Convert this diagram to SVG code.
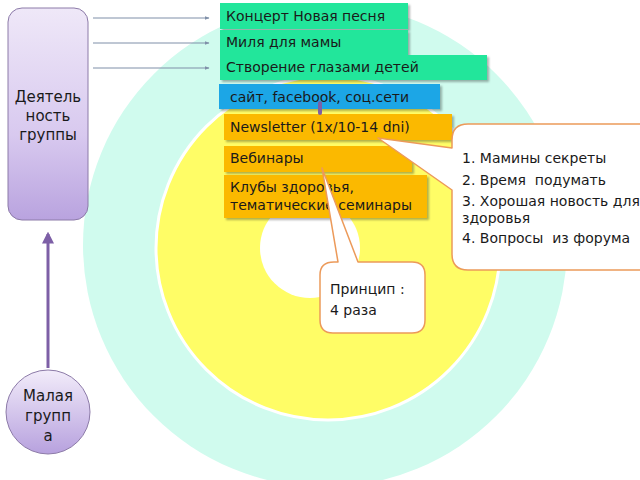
<svg xmlns="http://www.w3.org/2000/svg" width="640" height="480" viewBox="0 0 640 480">
<defs>
<linearGradient id="pg" x1="0" y1="0" x2="0" y2="1">
<stop offset="0" stop-color="#efe8f8"/><stop offset="0.6" stop-color="#d8c9ef"/><stop offset="1" stop-color="#b9a3df"/>
</linearGradient>
<linearGradient id="cg" x1="0" y1="0" x2="0" y2="1">
<stop offset="0" stop-color="#f2ecfa"/><stop offset="1" stop-color="#b7a1de"/>
</linearGradient>
<marker id="ah" viewBox="0 0 10 10" refX="9" refY="5" markerWidth="5" markerHeight="5" orient="auto"><path d="M0,1 L10,5 L0,9 z" fill="#7f8fa8"/></marker>
<marker id="ap" viewBox="0 0 10 10" refX="8" refY="5" markerWidth="4" markerHeight="4" orient="auto"><path d="M0,0 L10,5 L0,10 z" fill="#7d5fa6"/></marker>
<filter id="sh" x="-10%" y="-20%" width="130%" height="160%"><feDropShadow dx="2" dy="2" stdDeviation="1.2" flood-color="#000" flood-opacity="0.3"/></filter>
<style>
text{font-family:"DejaVu Sans",sans-serif;font-size:14px;fill:#1a1a1a}
.big{font-size:15px}
.g{fill:#22e69b}.b{fill:#1aa6e6}.o{fill:#fbb900}
.call{fill:#fff;stroke:#ec9a5a;stroke-width:1.5;stroke-linejoin:round}
.c{text-anchor:middle}
</style>
</defs>
<g id="background">
<circle cx="325" cy="245" r="242" fill="#d0fbee"/>
<circle cx="328" cy="248" r="172" fill="#fffd66" stroke="#fff" stroke-width="3"/>
<circle cx="310" cy="248" r="50" fill="#fff"/>
</g>
<g id="activity">
<rect x="8" y="8" width="80" height="212" rx="14" fill="url(#pg)" stroke="#8c7aa8" stroke-width="1"/>
<text x="48" y="102" class="c big">Деятель</text>
<text x="48" y="121" class="c big">ность</text>
<text x="48" y="140" class="c big">группы</text>
</g>
<g id="small-group">
<circle cx="48" cy="412" r="42" fill="url(#cg)" stroke="#8c7aa8" stroke-width="1"/>
<text x="48" y="401" class="c big">Малая</text>
<text x="48" y="421" class="c big">групп</text>
<text x="48" y="441" class="c big">а</text>
</g>
<g id="concert"><rect x="220" y="3" width="188" height="26" class="g" filter="url(#sh)"/><text x="226" y="21">Концерт Новая песня</text></g>
<g id="mile"><rect x="220" y="30" width="188" height="25" class="g" filter="url(#sh)"/><text x="226" y="47">Миля для мамы</text></g>
<g id="children"><rect x="220" y="55" width="267" height="25" class="g" filter="url(#sh)"/><text x="226" y="72">Створение глазами детей</text></g>
<g id="site"><rect x="219" y="84" width="221" height="25" class="b" filter="url(#sh)"/><text x="230" y="102">сайт, facebook, соц.сети</text></g>
<g id="newsletter"><rect x="224" y="114" width="228" height="26" class="o" filter="url(#sh)"/><text x="230" y="132">Newsletter (1x/10-14 dni)</text></g>
<g id="webinars"><rect x="224" y="146" width="188" height="26" class="o" filter="url(#sh)"/><text x="230" y="163">Вебинары</text></g>
<g id="clubs"><rect x="224" y="175" width="203" height="43" class="o" filter="url(#sh)"/><text x="230" y="192">Клубы здоровья,</text><text x="230" y="210">тематические семинары</text></g>
<g id="connectors">
<line x1="93" y1="18" x2="209" y2="18" stroke="#7f8fa8" stroke-width="1" marker-end="url(#ah)"/>
<line x1="93" y1="43" x2="209" y2="43" stroke="#7f8fa8" stroke-width="1" marker-end="url(#ah)"/>
<line x1="93" y1="68" x2="209" y2="68" stroke="#7f8fa8" stroke-width="1" marker-end="url(#ah)"/>
<line x1="48" y1="368" x2="48" y2="234" stroke="#7d5fa6" stroke-width="3" marker-end="url(#ap)"/>
<line x1="320" y1="103" x2="320" y2="113" stroke="#7d5fa6" stroke-width="4" stroke-linecap="round"/>
</g>
<g id="callout-newsletter">
<path class="call" d="M468,124 L650,124 L650,270 L468,270 Q452,270 452,254 L452,190 L378,138 L452,148 L452,140 Q452,124 468,124 Z"/>
<text x="462" y="163">1. Мамины секреты</text>
<text x="462" y="185" xml:space="preserve">2. Время  подумать</text>
<text x="462" y="206">3. Хорошая новость для</text>
<text x="462" y="223">здоровья</text>
<text x="462" y="243" xml:space="preserve">4. Вопросы  из форума</text>
</g>
<g id="callout-webinars">
<path class="call" d="M334,262 L338,262 L322,168 L358,262 L412,262 Q425,262 425,275 L425,320 Q425,333 412,333 L333,333 Q320,333 320,320 L320,275 Q320,262 334,262 Z"/>
<text x="330" y="294">Принцип :</text>
<text x="330" y="315">4 раза</text>
</g>
</svg>
